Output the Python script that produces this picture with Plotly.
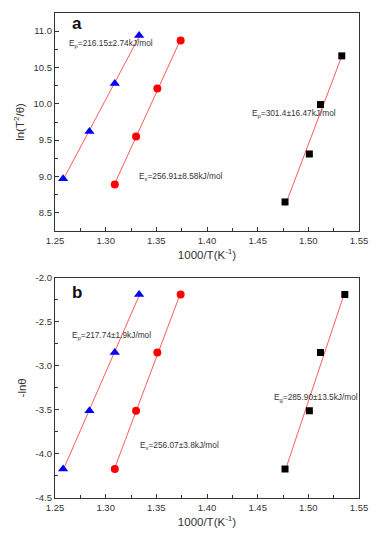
import numpy as np
import plotly.graph_objects as go

# ---- data ----
x_p = [1.258, 1.284, 1.309, 1.333]
x_x = [1.309, 1.330, 1.351, 1.374]
x_g_a = [1.477, 1.501, 1.512, 1.533]
x_g_b = [1.477, 1.501, 1.512, 1.536]

ya_p = [8.97, 9.62, 10.28, 10.94]
ya_x = [8.89, 9.55, 10.21, 10.87]
ya_g = [8.65, 9.31, 9.99, 10.66]

yb_p = [-4.17, -3.51, -2.85, -2.19]
yb_x = [-4.17, -3.51, -2.85, -2.19]
yb_g = [-4.17, -3.51, -2.85, -2.19]

x_ticks = [1.25, 1.30, 1.35, 1.40, 1.45, 1.50, 1.55]
ya_ticks = [8.5, 9.0, 9.5, 10.0, 10.5, 11.0]
yb_ticks = [-4.5, -4.0, -3.5, -3.0, -2.5, -2.0]

labels_a = ["E<sub>p</sub>=216.15±2.74kJ/mol", "E<sub>x</sub>=256.91±8.58kJ/mol", "E<sub>p</sub>=301.4±16.47kJ/mol"]
labels_b = ["E<sub>p</sub>=217.74±1.9kJ/mol", "E<sub>x</sub>=256.07±3.8kJ/mol", "E<sub>g</sub>=285.90±13.5kJ/mol"]
label_pos_a = [(1.262, 10.83), (1.3306, 9.0), (1.4423, 9.87)]
label_pos_b = [(1.2648, -2.653), (1.3321, -3.904), (1.4637, -3.363)]

FONT = "Liberation Sans, Arial, sans-serif"
fig = go.Figure()

def add_series(xs, ys, symbol, color, size, xa, ya):
    k, b = np.polyfit(xs, ys, 1)
    xl = np.array([min(xs), max(xs)])
    fig.add_trace(go.Scatter(x=xl, y=k * xl + b, mode="lines",
                             line=dict(color="#ff5a5a", width=1),
                             xaxis=xa, yaxis=ya, showlegend=False, hoverinfo="skip"))
    fig.add_trace(go.Scatter(x=xs, y=ys, mode="markers",
                             marker=dict(symbol=symbol, color=color, size=size, line=dict(width=0)),
                             xaxis=xa, yaxis=ya, showlegend=False))

add_series(x_p, ya_p, "triangle-up", "#0000ff", 9, "x", "y")
add_series(x_x, ya_x, "circle", "#ff0000", 8, "x", "y")
add_series(x_g_a, ya_g, "square", "#000000", 7, "x", "y")
add_series(x_p, yb_p, "triangle-up", "#0000ff", 9, "x2", "y2")
add_series(x_x, yb_x, "circle", "#ff0000", 8, "x2", "y2")
add_series(x_g_b, yb_g, "square", "#000000", 7, "x2", "y2")

axis_common = dict(showline=True, mirror=True, linecolor="#333333", linewidth=1.3,
                   ticks="inside", ticklen=4, tickcolor="#333333", tickwidth=1,
                   showgrid=False, zeroline=False,
                   tickfont=dict(family=FONT, size=9.5, color="#333333"))

xcommon = dict(axis_common, range=[1.25, 1.55], tickvals=x_ticks,
               ticktext=[f"{v:.2f}" for v in x_ticks],
               minor=dict(ticks="inside", ticklen=2.5, dtick=0.025, tickcolor="#333333", showgrid=False),
               title=dict(text="1000/T(K<sup>-1</sup>)", font=dict(family=FONT, size=11.5, color="#333333"), standoff=6))

fig.update_layout(
    width=377, height=537,
    margin=dict(l=55, r=18, t=7, b=39),
    paper_bgcolor="white", plot_bgcolor="white",
    xaxis=dict(xcommon, anchor="y", domain=[0, 1]),
    xaxis2=dict(xcommon, anchor="y2", domain=[0, 1]),
    yaxis=dict(axis_common, anchor="x", domain=[0.5505, 1], range=[8.25, 11.25],
               tickvals=ya_ticks, ticktext=[f"{v:.1f}" for v in ya_ticks],
               minor=dict(ticks="inside", ticklen=2.5, dtick=0.25, tickcolor="#333333", showgrid=False),
               title=dict(text="ln(T<sup>2</sup>/θ)", font=dict(family=FONT, size=11.5, color="#333333"), standoff=6)),
    yaxis2=dict(axis_common, anchor="x2", domain=[0, 0.4542], range=[-4.5, -2.0],
                tickvals=yb_ticks, ticktext=[f"{v:.1f}" for v in yb_ticks],
                minor=dict(ticks="inside", ticklen=2.5, dtick=0.25, tickcolor="#333333", showgrid=False),
                title=dict(text="-lnθ", font=dict(family=FONT, size=11.5, color="#333333"), standoff=6)),
)

annotations = []
for txt, (ax, ay) in zip(labels_a, label_pos_a):
    annotations.append(dict(x=ax, y=ay, xref="x", yref="y", text=txt, showarrow=False,
                            xanchor="left", yanchor="middle",
                            font=dict(family=FONT, size=8.3, color="#333333")))
for txt, (ax, ay) in zip(labels_b, label_pos_b):
    annotations.append(dict(x=ax, y=ay, xref="x2", yref="y2", text=txt, showarrow=False,
                            xanchor="left", yanchor="middle",
                            font=dict(family=FONT, size=8.3, color="#333333")))
annotations.append(dict(x=1.2645, y=11.1, xref="x", yref="y", text="<b>a</b>", showarrow=False,
                        xanchor="left", yanchor="middle", font=dict(family=FONT, size=17, color="#111111")))
annotations.append(dict(x=1.2645, y=-2.17, xref="x2", yref="y2", text="<b>b</b>", showarrow=False,
                        xanchor="left", yanchor="middle", font=dict(family=FONT, size=17, color="#111111")))
fig.update_layout(annotations=annotations)

fig.write_html("out.html", config={"displayModeBar": False},
               post_script="document.body.style.margin='0px';document.body.style.overflow='hidden';")
